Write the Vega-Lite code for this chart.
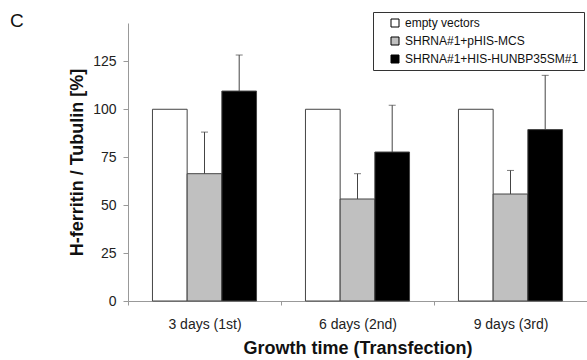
{
  "$schema": "https://vega.github.io/schema/vega-lite/v6.json",
  "width": 459,
  "height": 278,
  "autosize": {"type": "none"},
  "padding": {"left": 128, "top": 23, "right": 0, "bottom": 59},
  "background": "white",
  "title": {"text": "C", "anchor": "start", "frame": "group", "dx": -118, "dy": 19, "offset": 0, "fontSize": 19, "fontWeight": "normal", "font": "Liberation Sans", "color": "#111"},
  "config": {
    "view": {"stroke": null},
    "font": "Liberation Sans",
    "axis": {"grid": false, "domainColor": "#999", "tickColor": "#999", "labelColor": "#222", "titleColor": "#111", "labelFont": "Liberation Sans", "titleFont": "Liberation Sans", "titleFontWeight": "bold"}
  },
  "data": {"values": [
    {"group": "3 days (1st)", "series": "empty vectors", "value": 100, "upper": null},
    {"group": "3 days (1st)", "series": "SHRNA#1+pHIS-MCS", "value": 66.4, "upper": 88.1},
    {"group": "3 days (1st)", "series": "SHRNA#1+HIS-HUNBP35SM#1", "value": 109.5, "upper": 128.3},
    {"group": "6 days (2nd)", "series": "empty vectors", "value": 100, "upper": null},
    {"group": "6 days (2nd)", "series": "SHRNA#1+pHIS-MCS", "value": 53.2, "upper": 66.4},
    {"group": "6 days (2nd)", "series": "SHRNA#1+HIS-HUNBP35SM#1", "value": 77.7, "upper": 102.1},
    {"group": "9 days (3rd)", "series": "empty vectors", "value": 100, "upper": null},
    {"group": "9 days (3rd)", "series": "SHRNA#1+pHIS-MCS", "value": 55.8, "upper": 68.1},
    {"group": "9 days (3rd)", "series": "SHRNA#1+HIS-HUNBP35SM#1", "value": 89.4, "upper": 117.7}
  ]},
  "encoding": {
    "x": {"field": "group", "type": "nominal", "sort": null,
      "scale": {"paddingInner": 0, "paddingOuter": 0},
      "axis": {"title": "Growth time (Transfection)", "labelAngle": 0, "tickBand": "extent", "tickSize": 4, "labelPadding": 12, "labelFontSize": 14, "titleFontSize": 18, "titlePadding": 8}},
    "xOffset": {"field": "series", "type": "nominal", "sort": ["empty vectors", "SHRNA#1+pHIS-MCS", "SHRNA#1+HIS-HUNBP35SM#1"],
      "scale": {"paddingInner": 0, "paddingOuter": 0.705}}
  },
  "layer": [
    {
      "mark": {"type": "bar", "stroke": "#444", "strokeWidth": 1},
      "encoding": {
        "y": {"field": "value", "type": "quantitative",
          "scale": {"domain": [0, 145], "nice": false},
          "axis": {"title": "H-ferritin / Tubulin [%]", "values": [0, 25, 50, 75, 100, 125], "tickSize": 5, "labelPadding": 7, "labelFontSize": 14, "titleFontSize": 18, "titlePadding": 6}},
        "fill": {"field": "series", "type": "nominal", "sort": ["empty vectors", "SHRNA#1+pHIS-MCS", "SHRNA#1+HIS-HUNBP35SM#1"],
          "scale": {"domain": ["empty vectors", "SHRNA#1+pHIS-MCS", "SHRNA#1+HIS-HUNBP35SM#1"], "range": ["#ffffff", "#c0c0c0", "#000000"]},
          "legend": {"title": null, "orient": "none", "legendX": 245, "legendY": -11, "padding": 5, "symbolOffset": 11, "symbolType": "square", "symbolSize": 64, "symbolStrokeColor": "#000", "symbolStrokeWidth": 1, "strokeColor": "#333", "fillColor": "#fff", "labelFontSize": 12, "labelFont": "Liberation Sans", "labelColor": "#111", "labelLimit": 300, "labelOffset": 4, "rowPadding": 6}}
      }
    },
    {
      "transform": [{"filter": "datum.upper != null"}],
      "mark": {"type": "rule", "color": "#444", "strokeWidth": 1},
      "encoding": {"y": {"field": "value", "type": "quantitative"}, "y2": {"field": "upper"}}
    },
    {
      "transform": [{"filter": "datum.upper != null"}],
      "mark": {"type": "tick", "color": "#444", "thickness": 1, "size": 7},
      "encoding": {"y": {"field": "upper", "type": "quantitative"}}
    }
  ]
}
